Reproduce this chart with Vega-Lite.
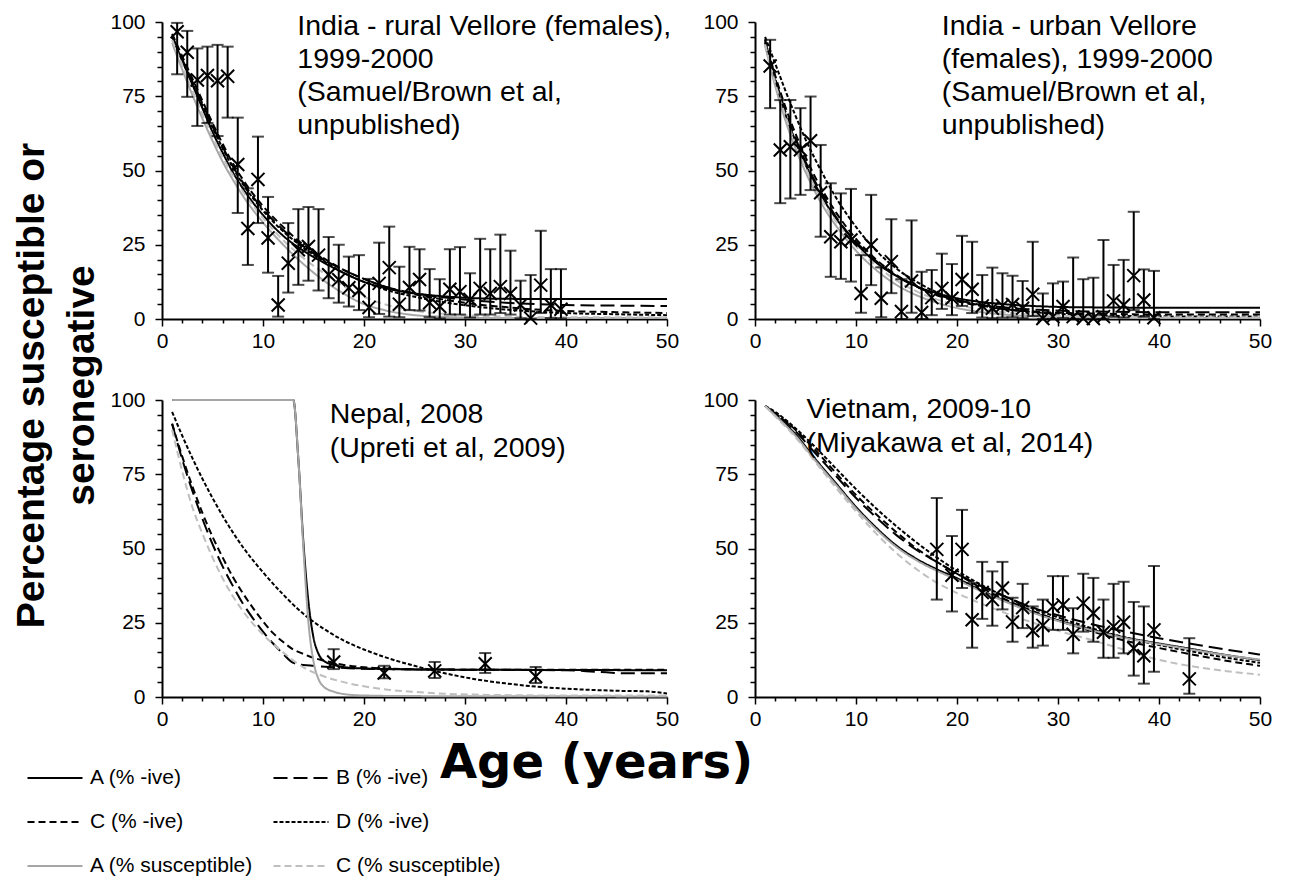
{
  "$schema": "https://vega.github.io/schema/vega-lite/v6.json",
  "background": "white",
  "padding": {"left": 12, "top": 11, "right": 5, "bottom": 5},
  "title": {"text": ["Percentage susceptible or", "seronegative"], "orient": "left", "anchor": "middle", "font": "Liberation Sans", "fontSize": 39, "fontWeight": "bold", "lineHeight": 50, "color": "black", "offset": -70, "dx": 58},
  "columns": 2,
  "spacing": {"row": 81, "column": 88},
  "bounds": "flush",
  "datasets": {
    "curves": [
      {"p":1,"s":"A (% -ive)","a":1,"v":95},{"p":1,"s":"A (% -ive)","a":2,"v":87},{"p":1,"s":"A (% -ive)","a":3,"v":79},{"p":1,"s":"A (% -ive)","a":4,"v":71},{"p":1,"s":"A (% -ive)","a":5,"v":63},{"p":1,"s":"A (% -ive)","a":6,"v":56},{"p":1,"s":"A (% -ive)","a":7,"v":49.5},{"p":1,"s":"A (% -ive)","a":8,"v":44},{"p":1,"s":"A (% -ive)","a":10,"v":35},{"p":1,"s":"A (% -ive)","a":12,"v":28},{"p":1,"s":"A (% -ive)","a":14,"v":23},{"p":1,"s":"A (% -ive)","a":16,"v":19},{"p":1,"s":"A (% -ive)","a":18,"v":15.5},{"p":1,"s":"A (% -ive)","a":20,"v":12.5},{"p":1,"s":"A (% -ive)","a":22,"v":10.5},{"p":1,"s":"A (% -ive)","a":25,"v":8.6},{"p":1,"s":"A (% -ive)","a":28,"v":7.6},{"p":1,"s":"A (% -ive)","a":31,"v":7},{"p":1,"s":"A (% -ive)","a":34,"v":6.8},{"p":1,"s":"A (% -ive)","a":37,"v":6.75},{"p":1,"s":"A (% -ive)","a":40,"v":6.75},{"p":1,"s":"A (% -ive)","a":45,"v":6.75},{"p":1,"s":"A (% -ive)","a":50,"v":6.75},
      {"p":1,"s":"B (% -ive)","a":1,"v":95.5},{"p":1,"s":"B (% -ive)","a":2,"v":87.5},{"p":1,"s":"B (% -ive)","a":3,"v":80},{"p":1,"s":"B (% -ive)","a":4,"v":72.5},{"p":1,"s":"B (% -ive)","a":5,"v":65},{"p":1,"s":"B (% -ive)","a":6,"v":58},{"p":1,"s":"B (% -ive)","a":7,"v":51.5},{"p":1,"s":"B (% -ive)","a":8,"v":46},{"p":1,"s":"B (% -ive)","a":10,"v":37},{"p":1,"s":"B (% -ive)","a":12,"v":30},{"p":1,"s":"B (% -ive)","a":14,"v":24.5},{"p":1,"s":"B (% -ive)","a":16,"v":20},{"p":1,"s":"B (% -ive)","a":18,"v":16.5},{"p":1,"s":"B (% -ive)","a":20,"v":13.5},{"p":1,"s":"B (% -ive)","a":22,"v":11},{"p":1,"s":"B (% -ive)","a":25,"v":8.7},{"p":1,"s":"B (% -ive)","a":28,"v":7.2},{"p":1,"s":"B (% -ive)","a":31,"v":6.2},{"p":1,"s":"B (% -ive)","a":34,"v":5.5},{"p":1,"s":"B (% -ive)","a":37,"v":5},{"p":1,"s":"B (% -ive)","a":40,"v":4.7},{"p":1,"s":"B (% -ive)","a":45,"v":4.5},{"p":1,"s":"B (% -ive)","a":50,"v":4.4},
      {"p":1,"s":"C (% -ive)","a":1,"v":96},{"p":1,"s":"C (% -ive)","a":2,"v":88.5},{"p":1,"s":"C (% -ive)","a":3,"v":81},{"p":1,"s":"C (% -ive)","a":4,"v":73.5},{"p":1,"s":"C (% -ive)","a":5,"v":66},{"p":1,"s":"C (% -ive)","a":6,"v":59},{"p":1,"s":"C (% -ive)","a":7,"v":52.5},{"p":1,"s":"C (% -ive)","a":8,"v":47},{"p":1,"s":"C (% -ive)","a":10,"v":38},{"p":1,"s":"C (% -ive)","a":12,"v":31},{"p":1,"s":"C (% -ive)","a":14,"v":25},{"p":1,"s":"C (% -ive)","a":16,"v":20.5},{"p":1,"s":"C (% -ive)","a":18,"v":16.5},{"p":1,"s":"C (% -ive)","a":20,"v":13.5},{"p":1,"s":"C (% -ive)","a":22,"v":11},{"p":1,"s":"C (% -ive)","a":25,"v":8.3},{"p":1,"s":"C (% -ive)","a":28,"v":6.5},{"p":1,"s":"C (% -ive)","a":31,"v":5},{"p":1,"s":"C (% -ive)","a":34,"v":4},{"p":1,"s":"C (% -ive)","a":37,"v":3.2},{"p":1,"s":"C (% -ive)","a":40,"v":2.7},{"p":1,"s":"C (% -ive)","a":45,"v":2.3},{"p":1,"s":"C (% -ive)","a":50,"v":2},
      {"p":1,"s":"D (% -ive)","a":1,"v":95},{"p":1,"s":"D (% -ive)","a":2,"v":87},{"p":1,"s":"D (% -ive)","a":3,"v":79.5},{"p":1,"s":"D (% -ive)","a":4,"v":72},{"p":1,"s":"D (% -ive)","a":5,"v":64.5},{"p":1,"s":"D (% -ive)","a":6,"v":57.5},{"p":1,"s":"D (% -ive)","a":7,"v":51},{"p":1,"s":"D (% -ive)","a":8,"v":45.5},{"p":1,"s":"D (% -ive)","a":10,"v":36.5},{"p":1,"s":"D (% -ive)","a":12,"v":29.5},{"p":1,"s":"D (% -ive)","a":14,"v":24},{"p":1,"s":"D (% -ive)","a":16,"v":19.5},{"p":1,"s":"D (% -ive)","a":18,"v":15.5},{"p":1,"s":"D (% -ive)","a":20,"v":12.5},{"p":1,"s":"D (% -ive)","a":22,"v":10},{"p":1,"s":"D (% -ive)","a":25,"v":7.5},{"p":1,"s":"D (% -ive)","a":28,"v":5.6},{"p":1,"s":"D (% -ive)","a":31,"v":4.2},{"p":1,"s":"D (% -ive)","a":34,"v":3.2},{"p":1,"s":"D (% -ive)","a":37,"v":2.5},{"p":1,"s":"D (% -ive)","a":40,"v":2},{"p":1,"s":"D (% -ive)","a":45,"v":1.6},{"p":1,"s":"D (% -ive)","a":50,"v":1.3},
      {"p":1,"s":"A (% susceptible)","a":1,"v":93},{"p":1,"s":"A (% susceptible)","a":2,"v":84},{"p":1,"s":"A (% susceptible)","a":3,"v":75.5},{"p":1,"s":"A (% susceptible)","a":4,"v":67.5},{"p":1,"s":"A (% susceptible)","a":5,"v":60},{"p":1,"s":"A (% susceptible)","a":6,"v":53},{"p":1,"s":"A (% susceptible)","a":7,"v":47},{"p":1,"s":"A (% susceptible)","a":8,"v":41.5},{"p":1,"s":"A (% susceptible)","a":10,"v":32.5},{"p":1,"s":"A (% susceptible)","a":12,"v":25},{"p":1,"s":"A (% susceptible)","a":14,"v":18.5},{"p":1,"s":"A (% susceptible)","a":16,"v":13},{"p":1,"s":"A (% susceptible)","a":18,"v":8.5},{"p":1,"s":"A (% susceptible)","a":20,"v":5},{"p":1,"s":"A (% susceptible)","a":22,"v":3},{"p":1,"s":"A (% susceptible)","a":25,"v":1.3},{"p":1,"s":"A (% susceptible)","a":28,"v":0.7},{"p":1,"s":"A (% susceptible)","a":31,"v":0.4},{"p":1,"s":"A (% susceptible)","a":34,"v":0.3},{"p":1,"s":"A (% susceptible)","a":40,"v":0.3},{"p":1,"s":"A (% susceptible)","a":50,"v":0.3},
      {"p":1,"s":"C (% susceptible)","a":1,"v":94},{"p":1,"s":"C (% susceptible)","a":2,"v":85.5},{"p":1,"s":"C (% susceptible)","a":3,"v":77},{"p":1,"s":"C (% susceptible)","a":4,"v":69},{"p":1,"s":"C (% susceptible)","a":5,"v":61.5},{"p":1,"s":"C (% susceptible)","a":6,"v":54.5},{"p":1,"s":"C (% susceptible)","a":7,"v":48.5},{"p":1,"s":"C (% susceptible)","a":8,"v":43},{"p":1,"s":"C (% susceptible)","a":10,"v":34},{"p":1,"s":"C (% susceptible)","a":12,"v":26.5},{"p":1,"s":"C (% susceptible)","a":14,"v":20.5},{"p":1,"s":"C (% susceptible)","a":16,"v":15.5},{"p":1,"s":"C (% susceptible)","a":18,"v":11},{"p":1,"s":"C (% susceptible)","a":20,"v":7.5},{"p":1,"s":"C (% susceptible)","a":22,"v":5},{"p":1,"s":"C (% susceptible)","a":25,"v":2.8},{"p":1,"s":"C (% susceptible)","a":28,"v":1.7},{"p":1,"s":"C (% susceptible)","a":31,"v":1.1},{"p":1,"s":"C (% susceptible)","a":34,"v":0.8},{"p":1,"s":"C (% susceptible)","a":40,"v":0.6},{"p":1,"s":"C (% susceptible)","a":50,"v":0.6},

      {"p":2,"s":"A (% -ive)","a":1,"v":93},{"p":2,"s":"A (% -ive)","a":2,"v":80},{"p":2,"s":"A (% -ive)","a":3,"v":69},{"p":2,"s":"A (% -ive)","a":4,"v":60},{"p":2,"s":"A (% -ive)","a":5,"v":52},{"p":2,"s":"A (% -ive)","a":6,"v":45},{"p":2,"s":"A (% -ive)","a":7,"v":39},{"p":2,"s":"A (% -ive)","a":8,"v":34},{"p":2,"s":"A (% -ive)","a":10,"v":25.5},{"p":2,"s":"A (% -ive)","a":12,"v":19},{"p":2,"s":"A (% -ive)","a":14,"v":14.5},{"p":2,"s":"A (% -ive)","a":16,"v":11},{"p":2,"s":"A (% -ive)","a":18,"v":8.7},{"p":2,"s":"A (% -ive)","a":20,"v":7},{"p":2,"s":"A (% -ive)","a":22,"v":5.9},{"p":2,"s":"A (% -ive)","a":25,"v":4.9},{"p":2,"s":"A (% -ive)","a":28,"v":4.3},{"p":2,"s":"A (% -ive)","a":31,"v":4},{"p":2,"s":"A (% -ive)","a":34,"v":3.9},{"p":2,"s":"A (% -ive)","a":40,"v":3.8},{"p":2,"s":"A (% -ive)","a":50,"v":3.8},
      {"p":2,"s":"B (% -ive)","a":1,"v":93.5},{"p":2,"s":"B (% -ive)","a":2,"v":81},{"p":2,"s":"B (% -ive)","a":3,"v":70},{"p":2,"s":"B (% -ive)","a":4,"v":61},{"p":2,"s":"B (% -ive)","a":5,"v":53},{"p":2,"s":"B (% -ive)","a":6,"v":46},{"p":2,"s":"B (% -ive)","a":7,"v":40},{"p":2,"s":"B (% -ive)","a":8,"v":34.5},{"p":2,"s":"B (% -ive)","a":10,"v":26},{"p":2,"s":"B (% -ive)","a":12,"v":19.5},{"p":2,"s":"B (% -ive)","a":14,"v":14.5},{"p":2,"s":"B (% -ive)","a":16,"v":10.8},{"p":2,"s":"B (% -ive)","a":18,"v":8.2},{"p":2,"s":"B (% -ive)","a":20,"v":6.4},{"p":2,"s":"B (% -ive)","a":22,"v":5},{"p":2,"s":"B (% -ive)","a":25,"v":3.8},{"p":2,"s":"B (% -ive)","a":28,"v":3.1},{"p":2,"s":"B (% -ive)","a":31,"v":2.7},{"p":2,"s":"B (% -ive)","a":34,"v":2.5},{"p":2,"s":"B (% -ive)","a":40,"v":2.3},{"p":2,"s":"B (% -ive)","a":50,"v":2.3},
      {"p":2,"s":"C (% -ive)","a":1,"v":94},{"p":2,"s":"C (% -ive)","a":2,"v":82},{"p":2,"s":"C (% -ive)","a":3,"v":71.5},{"p":2,"s":"C (% -ive)","a":4,"v":62.5},{"p":2,"s":"C (% -ive)","a":5,"v":54.5},{"p":2,"s":"C (% -ive)","a":6,"v":47.5},{"p":2,"s":"C (% -ive)","a":7,"v":41.5},{"p":2,"s":"C (% -ive)","a":8,"v":36},{"p":2,"s":"C (% -ive)","a":10,"v":27},{"p":2,"s":"C (% -ive)","a":12,"v":20},{"p":2,"s":"C (% -ive)","a":14,"v":14.8},{"p":2,"s":"C (% -ive)","a":16,"v":11},{"p":2,"s":"C (% -ive)","a":18,"v":8},{"p":2,"s":"C (% -ive)","a":20,"v":6},{"p":2,"s":"C (% -ive)","a":22,"v":4.6},{"p":2,"s":"C (% -ive)","a":25,"v":3.2},{"p":2,"s":"C (% -ive)","a":28,"v":2.4},{"p":2,"s":"C (% -ive)","a":31,"v":2},{"p":2,"s":"C (% -ive)","a":34,"v":1.8},{"p":2,"s":"C (% -ive)","a":40,"v":1.5},{"p":2,"s":"C (% -ive)","a":50,"v":1.5},
      {"p":2,"s":"D (% -ive)","a":1,"v":95},{"p":2,"s":"D (% -ive)","a":2,"v":86},{"p":2,"s":"D (% -ive)","a":3,"v":77},{"p":2,"s":"D (% -ive)","a":4,"v":68.5},{"p":2,"s":"D (% -ive)","a":5,"v":60.5},{"p":2,"s":"D (% -ive)","a":6,"v":53.5},{"p":2,"s":"D (% -ive)","a":7,"v":47},{"p":2,"s":"D (% -ive)","a":8,"v":41},{"p":2,"s":"D (% -ive)","a":10,"v":31},{"p":2,"s":"D (% -ive)","a":12,"v":23},{"p":2,"s":"D (% -ive)","a":14,"v":17},{"p":2,"s":"D (% -ive)","a":16,"v":12.5},{"p":2,"s":"D (% -ive)","a":18,"v":9},{"p":2,"s":"D (% -ive)","a":20,"v":6.5},{"p":2,"s":"D (% -ive)","a":22,"v":4.8},{"p":2,"s":"D (% -ive)","a":25,"v":3.2},{"p":2,"s":"D (% -ive)","a":28,"v":2.2},{"p":2,"s":"D (% -ive)","a":31,"v":1.6},{"p":2,"s":"D (% -ive)","a":34,"v":1.2},{"p":2,"s":"D (% -ive)","a":40,"v":0.9},{"p":2,"s":"D (% -ive)","a":50,"v":0.8},
      {"p":2,"s":"A (% susceptible)","a":1,"v":92},{"p":2,"s":"A (% susceptible)","a":2,"v":78.5},{"p":2,"s":"A (% susceptible)","a":3,"v":67},{"p":2,"s":"A (% susceptible)","a":4,"v":57.5},{"p":2,"s":"A (% susceptible)","a":5,"v":49.5},{"p":2,"s":"A (% susceptible)","a":6,"v":42.5},{"p":2,"s":"A (% susceptible)","a":7,"v":36.5},{"p":2,"s":"A (% susceptible)","a":8,"v":31.5},{"p":2,"s":"A (% susceptible)","a":10,"v":23},{"p":2,"s":"A (% susceptible)","a":12,"v":16.5},{"p":2,"s":"A (% susceptible)","a":14,"v":11.5},{"p":2,"s":"A (% susceptible)","a":16,"v":8},{"p":2,"s":"A (% susceptible)","a":18,"v":5.5},{"p":2,"s":"A (% susceptible)","a":20,"v":3.7},{"p":2,"s":"A (% susceptible)","a":22,"v":2.5},{"p":2,"s":"A (% susceptible)","a":25,"v":1.4},{"p":2,"s":"A (% susceptible)","a":28,"v":0.8},{"p":2,"s":"A (% susceptible)","a":31,"v":0.5},{"p":2,"s":"A (% susceptible)","a":34,"v":0.4},{"p":2,"s":"A (% susceptible)","a":40,"v":0.3},{"p":2,"s":"A (% susceptible)","a":50,"v":0.3},
      {"p":2,"s":"C (% susceptible)","a":1,"v":92.5},{"p":2,"s":"C (% susceptible)","a":2,"v":79.5},{"p":2,"s":"C (% susceptible)","a":3,"v":68.5},{"p":2,"s":"C (% susceptible)","a":4,"v":59},{"p":2,"s":"C (% susceptible)","a":5,"v":51},{"p":2,"s":"C (% susceptible)","a":6,"v":44},{"p":2,"s":"C (% susceptible)","a":7,"v":38},{"p":2,"s":"C (% susceptible)","a":8,"v":33},{"p":2,"s":"C (% susceptible)","a":10,"v":24.5},{"p":2,"s":"C (% susceptible)","a":12,"v":18},{"p":2,"s":"C (% susceptible)","a":14,"v":13},{"p":2,"s":"C (% susceptible)","a":16,"v":9.3},{"p":2,"s":"C (% susceptible)","a":18,"v":6.6},{"p":2,"s":"C (% susceptible)","a":20,"v":4.7},{"p":2,"s":"C (% susceptible)","a":22,"v":3.4},{"p":2,"s":"C (% susceptible)","a":25,"v":2.1},{"p":2,"s":"C (% susceptible)","a":28,"v":1.4},{"p":2,"s":"C (% susceptible)","a":31,"v":1},{"p":2,"s":"C (% susceptible)","a":34,"v":0.8},{"p":2,"s":"C (% susceptible)","a":40,"v":0.6},{"p":2,"s":"C (% susceptible)","a":50,"v":0.6},

      {"p":3,"s":"A (% -ive)","a":1,"v":100},{"p":3,"s":"A (% -ive)","a":5,"v":100},{"p":3,"s":"A (% -ive)","a":10,"v":100},{"p":3,"s":"A (% -ive)","a":13,"v":100},{"p":3,"s":"A (% -ive)","a":13.5,"v":80},{"p":3,"s":"A (% -ive)","a":14,"v":52},{"p":3,"s":"A (% -ive)","a":14.5,"v":32},{"p":3,"s":"A (% -ive)","a":15,"v":20},{"p":3,"s":"A (% -ive)","a":15.5,"v":14.5},{"p":3,"s":"A (% -ive)","a":16,"v":12.2},{"p":3,"s":"A (% -ive)","a":17,"v":10.8},{"p":3,"s":"A (% -ive)","a":18,"v":10.1},{"p":3,"s":"A (% -ive)","a":20,"v":9.6},{"p":3,"s":"A (% -ive)","a":25,"v":9.3},{"p":3,"s":"A (% -ive)","a":30,"v":9.2},{"p":3,"s":"A (% -ive)","a":40,"v":9.1},{"p":3,"s":"A (% -ive)","a":50,"v":9},
      {"p":3,"s":"B (% -ive)","a":1,"v":92},{"p":3,"s":"B (% -ive)","a":2,"v":80},{"p":3,"s":"B (% -ive)","a":3,"v":69.5},{"p":3,"s":"B (% -ive)","a":4,"v":60},{"p":3,"s":"B (% -ive)","a":5,"v":51.5},{"p":3,"s":"B (% -ive)","a":6,"v":44},{"p":3,"s":"B (% -ive)","a":7,"v":37.5},{"p":3,"s":"B (% -ive)","a":8,"v":31.5},{"p":3,"s":"B (% -ive)","a":9,"v":26.5},{"p":3,"s":"B (% -ive)","a":10,"v":22},{"p":3,"s":"B (% -ive)","a":11,"v":18},{"p":3,"s":"B (% -ive)","a":12,"v":14.5},{"p":3,"s":"B (% -ive)","a":13,"v":11.5},{"p":3,"s":"B (% -ive)","a":14,"v":10.8},{"p":3,"s":"B (% -ive)","a":15,"v":10.5},{"p":3,"s":"B (% -ive)","a":17,"v":10},{"p":3,"s":"B (% -ive)","a":20,"v":9.5},{"p":3,"s":"B (% -ive)","a":25,"v":9.3},{"p":3,"s":"B (% -ive)","a":30,"v":9.2},{"p":3,"s":"B (% -ive)","a":40,"v":9},{"p":3,"s":"B (% -ive)","a":43,"v":8.5},{"p":3,"s":"B (% -ive)","a":46,"v":8},{"p":3,"s":"B (% -ive)","a":50,"v":8},
      {"p":3,"s":"C (% -ive)","a":1,"v":92},{"p":3,"s":"C (% -ive)","a":2,"v":81},{"p":3,"s":"C (% -ive)","a":3,"v":71},{"p":3,"s":"C (% -ive)","a":4,"v":62},{"p":3,"s":"C (% -ive)","a":5,"v":54},{"p":3,"s":"C (% -ive)","a":6,"v":47},{"p":3,"s":"C (% -ive)","a":7,"v":40.5},{"p":3,"s":"C (% -ive)","a":8,"v":35},{"p":3,"s":"C (% -ive)","a":9,"v":30},{"p":3,"s":"C (% -ive)","a":10,"v":25.5},{"p":3,"s":"C (% -ive)","a":11,"v":21.5},{"p":3,"s":"C (% -ive)","a":12,"v":18.5},{"p":3,"s":"C (% -ive)","a":13,"v":16},{"p":3,"s":"C (% -ive)","a":14,"v":14.5},{"p":3,"s":"C (% -ive)","a":15,"v":13.2},{"p":3,"s":"C (% -ive)","a":16,"v":12.3},{"p":3,"s":"C (% -ive)","a":17,"v":11.5},{"p":3,"s":"C (% -ive)","a":18,"v":10.8},{"p":3,"s":"C (% -ive)","a":20,"v":10},{"p":3,"s":"C (% -ive)","a":22,"v":9.6},{"p":3,"s":"C (% -ive)","a":25,"v":9.3},{"p":3,"s":"C (% -ive)","a":30,"v":9.2},{"p":3,"s":"C (% -ive)","a":40,"v":9.2},{"p":3,"s":"C (% -ive)","a":50,"v":9.2},
      {"p":3,"s":"D (% -ive)","a":1,"v":96},{"p":3,"s":"D (% -ive)","a":2,"v":88},{"p":3,"s":"D (% -ive)","a":3,"v":80.5},{"p":3,"s":"D (% -ive)","a":4,"v":73.5},{"p":3,"s":"D (% -ive)","a":5,"v":67},{"p":3,"s":"D (% -ive)","a":6,"v":61},{"p":3,"s":"D (% -ive)","a":7,"v":55.5},{"p":3,"s":"D (% -ive)","a":8,"v":50.5},{"p":3,"s":"D (% -ive)","a":10,"v":42},{"p":3,"s":"D (% -ive)","a":12,"v":34.5},{"p":3,"s":"D (% -ive)","a":14,"v":28},{"p":3,"s":"D (% -ive)","a":16,"v":23},{"p":3,"s":"D (% -ive)","a":18,"v":19},{"p":3,"s":"D (% -ive)","a":20,"v":16},{"p":3,"s":"D (% -ive)","a":22,"v":13.5},{"p":3,"s":"D (% -ive)","a":25,"v":10.5},{"p":3,"s":"D (% -ive)","a":28,"v":8},{"p":3,"s":"D (% -ive)","a":31,"v":6},{"p":3,"s":"D (% -ive)","a":34,"v":4.6},{"p":3,"s":"D (% -ive)","a":37,"v":3.5},{"p":3,"s":"D (% -ive)","a":40,"v":2.8},{"p":3,"s":"D (% -ive)","a":45,"v":2.1},{"p":3,"s":"D (% -ive)","a":48,"v":1.9},{"p":3,"s":"D (% -ive)","a":50,"v":1.2},
      {"p":3,"s":"A (% susceptible)","a":1,"v":100},{"p":3,"s":"A (% susceptible)","a":5,"v":100},{"p":3,"s":"A (% susceptible)","a":10,"v":100},{"p":3,"s":"A (% susceptible)","a":13,"v":100},{"p":3,"s":"A (% susceptible)","a":13.5,"v":80},{"p":3,"s":"A (% susceptible)","a":14,"v":50},{"p":3,"s":"A (% susceptible)","a":14.5,"v":25},{"p":3,"s":"A (% susceptible)","a":15,"v":12},{"p":3,"s":"A (% susceptible)","a":15.5,"v":6},{"p":3,"s":"A (% susceptible)","a":16,"v":3.5},{"p":3,"s":"A (% susceptible)","a":17,"v":1.8},{"p":3,"s":"A (% susceptible)","a":18,"v":1},{"p":3,"s":"A (% susceptible)","a":20,"v":0.5},{"p":3,"s":"A (% susceptible)","a":25,"v":0.3},{"p":3,"s":"A (% susceptible)","a":50,"v":0.2},
      {"p":3,"s":"C (% susceptible)","a":1,"v":90},{"p":3,"s":"C (% susceptible)","a":2,"v":76},{"p":3,"s":"C (% susceptible)","a":3,"v":64},{"p":3,"s":"C (% susceptible)","a":4,"v":55},{"p":3,"s":"C (% susceptible)","a":5,"v":47},{"p":3,"s":"C (% susceptible)","a":6,"v":40},{"p":3,"s":"C (% susceptible)","a":7,"v":34},{"p":3,"s":"C (% susceptible)","a":8,"v":29},{"p":3,"s":"C (% susceptible)","a":10,"v":21},{"p":3,"s":"C (% susceptible)","a":12,"v":15},{"p":3,"s":"C (% susceptible)","a":14,"v":10},{"p":3,"s":"C (% susceptible)","a":16,"v":7},{"p":3,"s":"C (% susceptible)","a":18,"v":5},{"p":3,"s":"C (% susceptible)","a":20,"v":3.6},{"p":3,"s":"C (% susceptible)","a":22,"v":2.6},{"p":3,"s":"C (% susceptible)","a":25,"v":1.7},{"p":3,"s":"C (% susceptible)","a":28,"v":1.1},{"p":3,"s":"C (% susceptible)","a":31,"v":0.8},{"p":3,"s":"C (% susceptible)","a":35,"v":0.6},{"p":3,"s":"C (% susceptible)","a":40,"v":0.5},{"p":3,"s":"C (% susceptible)","a":50,"v":0.5},

      {"p":4,"s":"A (% -ive)","a":1,"v":98},{"p":4,"s":"A (% -ive)","a":2,"v":95},{"p":4,"s":"A (% -ive)","a":4,"v":88.5},{"p":4,"s":"A (% -ive)","a":6,"v":80},{"p":4,"s":"A (% -ive)","a":8,"v":72},{"p":4,"s":"A (% -ive)","a":10,"v":64},{"p":4,"s":"A (% -ive)","a":12,"v":57},{"p":4,"s":"A (% -ive)","a":14,"v":51},{"p":4,"s":"A (% -ive)","a":16,"v":46.5},{"p":4,"s":"A (% -ive)","a":18,"v":43},{"p":4,"s":"A (% -ive)","a":20,"v":40},{"p":4,"s":"A (% -ive)","a":22,"v":36.5},{"p":4,"s":"A (% -ive)","a":25,"v":32},{"p":4,"s":"A (% -ive)","a":28,"v":28},{"p":4,"s":"A (% -ive)","a":30,"v":25.8},{"p":4,"s":"A (% -ive)","a":33,"v":23},{"p":4,"s":"A (% -ive)","a":36,"v":20.5},{"p":4,"s":"A (% -ive)","a":40,"v":18},{"p":4,"s":"A (% -ive)","a":43,"v":16.3},{"p":4,"s":"A (% -ive)","a":46,"v":14.5},{"p":4,"s":"A (% -ive)","a":50,"v":12.4},
      {"p":4,"s":"B (% -ive)","a":1,"v":98},{"p":4,"s":"B (% -ive)","a":2,"v":95.5},{"p":4,"s":"B (% -ive)","a":4,"v":89.5},{"p":4,"s":"B (% -ive)","a":6,"v":82},{"p":4,"s":"B (% -ive)","a":8,"v":74.5},{"p":4,"s":"B (% -ive)","a":10,"v":67},{"p":4,"s":"B (% -ive)","a":12,"v":60.5},{"p":4,"s":"B (% -ive)","a":14,"v":54.5},{"p":4,"s":"B (% -ive)","a":16,"v":49.5},{"p":4,"s":"B (% -ive)","a":18,"v":45.5},{"p":4,"s":"B (% -ive)","a":20,"v":41.5},{"p":4,"s":"B (% -ive)","a":22,"v":38},{"p":4,"s":"B (% -ive)","a":25,"v":33.5},{"p":4,"s":"B (% -ive)","a":28,"v":29.5},{"p":4,"s":"B (% -ive)","a":30,"v":27.5},{"p":4,"s":"B (% -ive)","a":33,"v":24.8},{"p":4,"s":"B (% -ive)","a":36,"v":22.5},{"p":4,"s":"B (% -ive)","a":40,"v":19.8},{"p":4,"s":"B (% -ive)","a":43,"v":18},{"p":4,"s":"B (% -ive)","a":46,"v":16.3},{"p":4,"s":"B (% -ive)","a":50,"v":14.3},
      {"p":4,"s":"C (% -ive)","a":1,"v":98},{"p":4,"s":"C (% -ive)","a":2,"v":95.5},{"p":4,"s":"C (% -ive)","a":4,"v":90},{"p":4,"s":"C (% -ive)","a":6,"v":83},{"p":4,"s":"C (% -ive)","a":8,"v":75.5},{"p":4,"s":"C (% -ive)","a":10,"v":68},{"p":4,"s":"C (% -ive)","a":12,"v":61.5},{"p":4,"s":"C (% -ive)","a":14,"v":55.5},{"p":4,"s":"C (% -ive)","a":16,"v":50},{"p":4,"s":"C (% -ive)","a":18,"v":45.5},{"p":4,"s":"C (% -ive)","a":20,"v":41.5},{"p":4,"s":"C (% -ive)","a":22,"v":37.5},{"p":4,"s":"C (% -ive)","a":25,"v":32.5},{"p":4,"s":"C (% -ive)","a":28,"v":28.3},{"p":4,"s":"C (% -ive)","a":30,"v":25.8},{"p":4,"s":"C (% -ive)","a":33,"v":22.5},{"p":4,"s":"C (% -ive)","a":36,"v":19.5},{"p":4,"s":"C (% -ive)","a":40,"v":16.5},{"p":4,"s":"C (% -ive)","a":43,"v":14.5},{"p":4,"s":"C (% -ive)","a":46,"v":12.6},{"p":4,"s":"C (% -ive)","a":50,"v":10.5},
      {"p":4,"s":"D (% -ive)","a":1,"v":98},{"p":4,"s":"D (% -ive)","a":2,"v":96},{"p":4,"s":"D (% -ive)","a":4,"v":90.5},{"p":4,"s":"D (% -ive)","a":6,"v":84},{"p":4,"s":"D (% -ive)","a":8,"v":77},{"p":4,"s":"D (% -ive)","a":10,"v":70},{"p":4,"s":"D (% -ive)","a":12,"v":63.5},{"p":4,"s":"D (% -ive)","a":14,"v":57.5},{"p":4,"s":"D (% -ive)","a":16,"v":52},{"p":4,"s":"D (% -ive)","a":18,"v":47},{"p":4,"s":"D (% -ive)","a":20,"v":42.5},{"p":4,"s":"D (% -ive)","a":22,"v":38.5},{"p":4,"s":"D (% -ive)","a":25,"v":33.5},{"p":4,"s":"D (% -ive)","a":28,"v":29.2},{"p":4,"s":"D (% -ive)","a":30,"v":26.8},{"p":4,"s":"D (% -ive)","a":33,"v":23.5},{"p":4,"s":"D (% -ive)","a":36,"v":20.6},{"p":4,"s":"D (% -ive)","a":40,"v":17.5},{"p":4,"s":"D (% -ive)","a":43,"v":15.5},{"p":4,"s":"D (% -ive)","a":46,"v":13.6},{"p":4,"s":"D (% -ive)","a":50,"v":11.5},
      {"p":4,"s":"A (% susceptible)","a":1,"v":98},{"p":4,"s":"A (% susceptible)","a":2,"v":94.8},{"p":4,"s":"A (% susceptible)","a":4,"v":88},{"p":4,"s":"A (% susceptible)","a":6,"v":79.5},{"p":4,"s":"A (% susceptible)","a":8,"v":71.5},{"p":4,"s":"A (% susceptible)","a":10,"v":63.5},{"p":4,"s":"A (% susceptible)","a":12,"v":56.5},{"p":4,"s":"A (% susceptible)","a":14,"v":50.5},{"p":4,"s":"A (% susceptible)","a":16,"v":46},{"p":4,"s":"A (% susceptible)","a":18,"v":42.5},{"p":4,"s":"A (% susceptible)","a":20,"v":39.5},{"p":4,"s":"A (% susceptible)","a":22,"v":36.2},{"p":4,"s":"A (% susceptible)","a":25,"v":31.8},{"p":4,"s":"A (% susceptible)","a":28,"v":27.8},{"p":4,"s":"A (% susceptible)","a":30,"v":25.6},{"p":4,"s":"A (% susceptible)","a":33,"v":22.8},{"p":4,"s":"A (% susceptible)","a":36,"v":20.3},{"p":4,"s":"A (% susceptible)","a":40,"v":17.8},{"p":4,"s":"A (% susceptible)","a":43,"v":16.1},{"p":4,"s":"A (% susceptible)","a":46,"v":14.4},{"p":4,"s":"A (% susceptible)","a":50,"v":12.6},
      {"p":4,"s":"C (% susceptible)","a":1,"v":98},{"p":4,"s":"C (% susceptible)","a":2,"v":94.5},{"p":4,"s":"C (% susceptible)","a":4,"v":87.5},{"p":4,"s":"C (% susceptible)","a":6,"v":79},{"p":4,"s":"C (% susceptible)","a":8,"v":70.5},{"p":4,"s":"C (% susceptible)","a":10,"v":62.5},{"p":4,"s":"C (% susceptible)","a":12,"v":55},{"p":4,"s":"C (% susceptible)","a":14,"v":48.5},{"p":4,"s":"C (% susceptible)","a":16,"v":43},{"p":4,"s":"C (% susceptible)","a":18,"v":38.5},{"p":4,"s":"C (% susceptible)","a":20,"v":35},{"p":4,"s":"C (% susceptible)","a":22,"v":32},{"p":4,"s":"C (% susceptible)","a":25,"v":28},{"p":4,"s":"C (% susceptible)","a":28,"v":24.5},{"p":4,"s":"C (% susceptible)","a":30,"v":22.3},{"p":4,"s":"C (% susceptible)","a":33,"v":19.5},{"p":4,"s":"C (% susceptible)","a":36,"v":16.5},{"p":4,"s":"C (% susceptible)","a":40,"v":12.5},{"p":4,"s":"C (% susceptible)","a":43,"v":10.5},{"p":4,"s":"C (% susceptible)","a":46,"v":9},{"p":4,"s":"C (% susceptible)","a":50,"v":7.5}
    ],
    "obs": [
      {"p":1,"a":1.5,"v":96.7,"lo":82.4,"hi":99.7},{"p":1,"a":2.5,"v":89.8,"lo":74.8,"hi":97},{"p":1,"a":3.5,"v":80.5,"lo":65,"hi":91.1},{"p":1,"a":4.5,"v":82,"lo":66,"hi":91.7},{"p":1,"a":5.5,"v":80.2,"lo":61.6,"hi":92.3},{"p":1,"a":6.5,"v":81.7,"lo":67.8,"hi":91.7},{"p":1,"a":7.5,"v":52,"lo":35.7,"hi":67.8},{"p":1,"a":8.5,"v":30.5,"lo":18.2,"hi":44},{"p":1,"a":9.5,"v":47,"lo":32.3,"hi":61.4},{"p":1,"a":10.5,"v":27.3,"lo":15.6,"hi":41.1},{"p":1,"a":11.5,"v":4.7,"lo":0.8,"hi":14.5},{"p":1,"a":12.5,"v":18.8,"lo":8.9,"hi":32.3},{"p":1,"a":13.5,"v":23.3,"lo":11.5,"hi":37},{"p":1,"a":14.5,"v":24.4,"lo":12.9,"hi":37.7},{"p":1,"a":15.5,"v":21.5,"lo":9.6,"hi":37},{"p":1,"a":16.5,"v":14.9,"lo":7,"hi":27.6},{"p":1,"a":17.5,"v":13.2,"lo":5.5,"hi":25},{"p":1,"a":18.5,"v":10.5,"lo":4.2,"hi":21},{"p":1,"a":19.5,"v":9.6,"lo":3,"hi":21.5},{"p":1,"a":20.5,"v":3.9,"lo":0.6,"hi":13.5},{"p":1,"a":21.5,"v":12,"lo":1.7,"hi":25.7},{"p":1,"a":22.5,"v":17.3,"lo":0.8,"hi":31.1},{"p":1,"a":23.5,"v":5,"lo":0.6,"hi":17.6},{"p":1,"a":24.5,"v":10.6,"lo":3,"hi":24.3},{"p":1,"a":25.5,"v":13.3,"lo":2.9,"hi":23.5},{"p":1,"a":26.5,"v":5.5,"lo":0.6,"hi":16.8},{"p":1,"a":27.5,"v":4.2,"lo":0.2,"hi":13.4},{"p":1,"a":28.5,"v":10,"lo":1.5,"hi":23.5},{"p":1,"a":29.5,"v":9.2,"lo":1.5,"hi":24.2},{"p":1,"a":30.5,"v":6.6,"lo":0.5,"hi":15.4},{"p":1,"a":31.5,"v":10.3,"lo":1.5,"hi":27},{"p":1,"a":32.5,"v":8.6,"lo":1.5,"hi":23.5},{"p":1,"a":33.5,"v":10.9,"lo":2,"hi":28.4},{"p":1,"a":34.5,"v":8.6,"lo":1.5,"hi":23},{"p":1,"a":35.5,"v":4.7,"lo":0.2,"hi":12.9},{"p":1,"a":36.5,"v":0.3,"lo":0,"hi":14.8},{"p":1,"a":37.5,"v":11.4,"lo":2,"hi":29.7},{"p":1,"a":38.5,"v":4.7,"lo":0.3,"hi":16.8},{"p":1,"a":39.5,"v":3.3,"lo":0.2,"hi":16.8},
      {"p":2,"a":1.5,"v":85.2,"lo":71,"hi":94},{"p":2,"a":2.5,"v":56.9,"lo":39,"hi":73.7},{"p":2,"a":3.5,"v":58,"lo":40.6,"hi":73.7},{"p":2,"a":4.5,"v":57,"lo":41.8,"hi":71},{"p":2,"a":5.5,"v":60,"lo":43.4,"hi":74.9},{"p":2,"a":6.5,"v":42.5,"lo":27.7,"hi":58.6},{"p":2,"a":7.5,"v":27.7,"lo":14.2,"hi":45.7},{"p":2,"a":8.5,"v":26,"lo":13.5,"hi":42.3},{"p":2,"a":9.5,"v":26.6,"lo":12.6,"hi":43.8},{"p":2,"a":10.5,"v":8.6,"lo":2.1,"hi":21.5},{"p":2,"a":11.5,"v":24.9,"lo":11.4,"hi":41.8},{"p":2,"a":12.5,"v":7,"lo":0.6,"hi":17.4},{"p":2,"a":13.5,"v":19.3,"lo":8.7,"hi":33.6},{"p":2,"a":14.5,"v":2.5,"lo":0,"hi":13.4},{"p":2,"a":15.5,"v":12.8,"lo":2.1,"hi":33.2},{"p":2,"a":16.5,"v":2.2,"lo":0,"hi":15.9},{"p":2,"a":17.5,"v":7.2,"lo":1.3,"hi":16.5},{"p":2,"a":18.5,"v":10.3,"lo":3.4,"hi":22},{"p":2,"a":19.5,"v":7,"lo":1.3,"hi":18.5},{"p":2,"a":20.5,"v":13.3,"lo":4.4,"hi":28},{"p":2,"a":21.5,"v":10,"lo":2,"hi":26},{"p":2,"a":22.5,"v":4.4,"lo":0.5,"hi":14.8},{"p":2,"a":23.5,"v":3.6,"lo":0.3,"hi":17.3},{"p":2,"a":24.5,"v":4.5,"lo":0.5,"hi":15.4},{"p":2,"a":25.5,"v":4.9,"lo":0.6,"hi":14.6},{"p":2,"a":26.5,"v":3.6,"lo":0.3,"hi":12.8},{"p":2,"a":27.5,"v":8.3,"lo":1,"hi":26},{"p":2,"a":28.5,"v":0.2,"lo":0,"hi":8.6},{"p":2,"a":29.5,"v":0.8,"lo":0,"hi":12},{"p":2,"a":30.5,"v":4.2,"lo":0.3,"hi":12.6},{"p":2,"a":31.5,"v":0.8,"lo":0,"hi":20.7},{"p":2,"a":32.5,"v":0.2,"lo":0,"hi":13.4},{"p":2,"a":33.5,"v":0.2,"lo":0,"hi":13.9},{"p":2,"a":34.5,"v":0.8,"lo":0,"hi":26.6},{"p":2,"a":35.5,"v":6.1,"lo":0.8,"hi":18.2},{"p":2,"a":36.5,"v":4.7,"lo":0.5,"hi":19.9},{"p":2,"a":37.5,"v":14.6,"lo":3,"hi":36.1},{"p":2,"a":38.5,"v":6.4,"lo":0.8,"hi":16.7},{"p":2,"a":39.5,"v":0.4,"lo":0,"hi":16.2},
      {"p":3,"a":17,"v":11.8,"lo":9.4,"hi":16.1},{"p":3,"a":22,"v":8.1,"lo":6.3,"hi":10.5},{"p":3,"a":27,"v":8.8,"lo":6.4,"hi":11.8},{"p":3,"a":32,"v":11.2,"lo":8.1,"hi":14.8},{"p":3,"a":37,"v":6.9,"lo":4.7,"hi":10.1},
      {"p":4,"a":18,"v":49.7,"lo":32.8,"hi":67},{"p":4,"a":19.5,"v":41,"lo":28.8,"hi":54.2},{"p":4,"a":20.5,"v":49.7,"lo":36.7,"hi":63},{"p":4,"a":21.5,"v":26,"lo":16.6,"hi":38.4},{"p":4,"a":22.5,"v":35.2,"lo":26.3,"hi":45.5},{"p":4,"a":23.5,"v":32.8,"lo":24,"hi":42.3},{"p":4,"a":24.5,"v":36.7,"lo":29.5,"hi":45.5},{"p":4,"a":25.5,"v":25.3,"lo":18.6,"hi":33.4},{"p":4,"a":26.5,"v":30.1,"lo":23.2,"hi":38.1},{"p":4,"a":27.5,"v":22.3,"lo":16.6,"hi":30.5},{"p":4,"a":28.5,"v":24.1,"lo":17.3,"hi":32.8},{"p":4,"a":29.5,"v":30.5,"lo":22.6,"hi":40.7},{"p":4,"a":30.5,"v":31,"lo":22.6,"hi":40.7},{"p":4,"a":31.5,"v":21.1,"lo":14.7,"hi":29.9},{"p":4,"a":32.5,"v":31.6,"lo":22,"hi":41.5},{"p":4,"a":33.5,"v":28.2,"lo":18.6,"hi":40.1},{"p":4,"a":34.5,"v":21.8,"lo":13.2,"hi":32.8},{"p":4,"a":35.5,"v":23.7,"lo":13.2,"hi":38.1},{"p":4,"a":36.5,"v":25.2,"lo":14.7,"hi":38.8},{"p":4,"a":37.5,"v":16.4,"lo":7.2,"hi":32},{"p":4,"a":38.5,"v":13.9,"lo":4.5,"hi":30.5},{"p":4,"a":39.5,"v":22.6,"lo":8.5,"hi":44.1},{"p":4,"a":43,"v":6.1,"lo":1.1,"hi":19.8}
    ],
    "notes": [
      {"p":1,"a":13.4,"v":103.4,"t":"India - rural Vellore (females),\n1999-2000\n(Samuel/Brown et al,\nunpublished)"},
      {"p":2,"a":18.5,"v":103.4,"t":"India - urban Vellore\n(females), 1999-2000\n(Samuel/Brown et al,\nunpublished)"},
      {"p":3,"a":16.6,"v":100.1,"t":"Nepal, 2008\n(Upreti et al, 2009)"},
      {"p":4,"a":5.1,"v":101.8,"t":"Vietnam, 2009-10\n(Miyakawa et al, 2014)"}
    ]
  },
  "concat": [
    {
      "width": 505, "height": 297,
      "encoding": {
        "x": {"field": "a", "type": "quantitative", "scale": {"domain": [0, 50], "nice": false, "zero": false},
              "axis": {"title": null, "values": [0,2,4,6,8,10,12,14,16,18,20,22,24,26,28,30,32,34,36,38,40,42,44,46,48,50], "labelExpr": "datum.value % 10 === 0 ? datum.label : ''", "tickSize": {"condition": {"test": "datum.value % 10 === 0", "value": 7}, "value": 4}, "labelFlush": false, "labelOverlap": false, "labelPadding": 4}},
        "y": {"field": "v", "type": "quantitative", "scale": {"domain": [0, 100], "nice": false},
              "axis": {"title": null, "values": [0,5,10,15,20,25,30,35,40,45,50,55,60,65,70,75,80,85,90,95,100], "labelExpr": "datum.value % 25 === 0 ? datum.label : ''", "tickSize": {"condition": {"test": "datum.value % 25 === 0", "value": 7}, "value": 5}, "labelOverlap": false, "labelPadding": 10}}
      },
      "layer": [
        {"data": {"name": "curves"}, "transform": [{"filter": "datum.p === 1"}],
         "mark": {"type": "line", "interpolate": "monotone", "strokeWidth": 2},
         "encoding": {
           "color": {"field": "s", "type": "nominal", "scale": {"domain": ["A (% -ive)","C (% -ive)","A (% susceptible)","B (% -ive)","D (% -ive)","C (% susceptible)"], "range": ["#000000","#000000","#a6a6a6","#000000","#000000","#bfbfbf"]}, "legend": {"title": null, "orient": "none", "legendX": -130, "legendY": 733, "columns": 2, "symbolType": "M-1.25,0H1.25", "symbolSize": 1936, "symbolStrokeWidth": 2, "labelLimit": 300}},
           "strokeDash": {"field": "s", "type": "nominal", "scale": {"domain": ["A (% -ive)","C (% -ive)","A (% susceptible)","B (% -ive)","D (% -ive)","C (% susceptible)"], "range": [[1,0],[7,4],[1,0],[14,6],[4,2],[7,4]]}, "legend": {"title": null, "orient": "none", "legendX": -130, "legendY": 733, "columns": 2, "symbolType": "M-1.25,0H1.25", "symbolSize": 1936, "symbolStrokeWidth": 2, "labelLimit": 300}}
         }},
        {"data": {"name": "obs"}, "transform": [{"filter": "datum.p === 1"}],
         "mark": {"type": "errorbar", "ticks": true, "size": 12, "thickness": 2, "color": "black"},
         "encoding": {"y": {"field": "lo", "type": "quantitative", "scale": {"domain": [0, 100], "nice": false}, "axis": {"title": null, "values": [0,5,10,15,20,25,30,35,40,45,50,55,60,65,70,75,80,85,90,95,100], "labelExpr": "datum.value % 25 === 0 ? datum.label : ''", "tickSize": {"condition": {"test": "datum.value % 25 === 0", "value": 7}, "value": 5}, "labelOverlap": false, "labelPadding": 10}}, "y2": {"field": "hi"}}},
        {"data": {"name": "obs"}, "transform": [{"filter": "datum.p === 1"}],
         "mark": {"type": "point", "shape": "M-1,-1L1,1M-1,1L1,-1", "size": 170, "strokeWidth": 2, "color": "black", "filled": false, "opacity": 1}},
        {"data": {"name": "notes"}, "transform": [{"filter": "datum.p === 1"}],
         "mark": {"type": "text", "align": "left", "baseline": "top", "fontSize": 28.5, "lineHeight": 33, "lineBreak": "\n", "font": "Liberation Sans", "color": "black"},
         "encoding": {"text": {"field": "t", "type": "nominal"}}}
      ]
    },
    {
      "width": 505, "height": 297,
      "encoding": {
        "x": {"field": "a", "type": "quantitative", "scale": {"domain": [0, 50], "nice": false, "zero": false},
              "axis": {"title": null, "values": [0,2,4,6,8,10,12,14,16,18,20,22,24,26,28,30,32,34,36,38,40,42,44,46,48,50], "labelExpr": "datum.value % 10 === 0 ? datum.label : ''", "tickSize": {"condition": {"test": "datum.value % 10 === 0", "value": 7}, "value": 4}, "labelFlush": false, "labelOverlap": false, "labelPadding": 4}},
        "y": {"field": "v", "type": "quantitative", "scale": {"domain": [0, 100], "nice": false},
              "axis": {"title": null, "values": [0,5,10,15,20,25,30,35,40,45,50,55,60,65,70,75,80,85,90,95,100], "labelExpr": "datum.value % 25 === 0 ? datum.label : ''", "tickSize": {"condition": {"test": "datum.value % 25 === 0", "value": 7}, "value": 5}, "labelOverlap": false, "labelPadding": 10}}
      },
      "layer": [
        {"data": {"name": "curves"}, "transform": [{"filter": "datum.p === 2"}],
         "mark": {"type": "line", "interpolate": "monotone", "strokeWidth": 2},
         "encoding": {
           "color": {"field": "s", "type": "nominal", "scale": {"domain": ["A (% -ive)","C (% -ive)","A (% susceptible)","B (% -ive)","D (% -ive)","C (% susceptible)"], "range": ["#000000","#000000","#a6a6a6","#000000","#000000","#bfbfbf"]}, "legend": {"title": null, "orient": "none", "legendX": -130, "legendY": 733, "columns": 2, "symbolType": "M-1.25,0H1.25", "symbolSize": 1936, "symbolStrokeWidth": 2, "labelLimit": 300}},
           "strokeDash": {"field": "s", "type": "nominal", "scale": {"domain": ["A (% -ive)","C (% -ive)","A (% susceptible)","B (% -ive)","D (% -ive)","C (% susceptible)"], "range": [[1,0],[7,4],[1,0],[14,6],[4,2],[7,4]]}, "legend": {"title": null, "orient": "none", "legendX": -130, "legendY": 733, "columns": 2, "symbolType": "M-1.25,0H1.25", "symbolSize": 1936, "symbolStrokeWidth": 2, "labelLimit": 300}}
         }},
        {"data": {"name": "obs"}, "transform": [{"filter": "datum.p === 2"}],
         "mark": {"type": "errorbar", "ticks": true, "size": 12, "thickness": 2, "color": "black"},
         "encoding": {"y": {"field": "lo", "type": "quantitative", "scale": {"domain": [0, 100], "nice": false}, "axis": {"title": null, "values": [0,5,10,15,20,25,30,35,40,45,50,55,60,65,70,75,80,85,90,95,100], "labelExpr": "datum.value % 25 === 0 ? datum.label : ''", "tickSize": {"condition": {"test": "datum.value % 25 === 0", "value": 7}, "value": 5}, "labelOverlap": false, "labelPadding": 10}}, "y2": {"field": "hi"}}},
        {"data": {"name": "obs"}, "transform": [{"filter": "datum.p === 2"}],
         "mark": {"type": "point", "shape": "M-1,-1L1,1M-1,1L1,-1", "size": 170, "strokeWidth": 2, "color": "black", "filled": false, "opacity": 1}},
        {"data": {"name": "notes"}, "transform": [{"filter": "datum.p === 2"}],
         "mark": {"type": "text", "align": "left", "baseline": "top", "fontSize": 28.5, "lineHeight": 33, "lineBreak": "\n", "font": "Liberation Sans", "color": "black"},
         "encoding": {"text": {"field": "t", "type": "nominal"}}}
      ]
    },
    {
      "width": 505, "height": 297,
      "encoding": {
        "x": {"field": "a", "type": "quantitative", "scale": {"domain": [0, 50], "nice": false, "zero": false},
              "axis": {"title": "Age (years)", "titleFont": "DejaVu Sans", "titleFontSize": 48, "titleFontWeight": "bold", "titleX": 434, "titleY": 66, "titleAlign": "center", "titleBaseline": "middle", "titleColor": "black", "values": [0,2,4,6,8,10,12,14,16,18,20,22,24,26,28,30,32,34,36,38,40,42,44,46,48,50], "labelExpr": "datum.value % 10 === 0 ? datum.label : ''", "tickSize": {"condition": {"test": "datum.value % 10 === 0", "value": 7}, "value": 4}, "labelFlush": false, "labelOverlap": false, "labelPadding": 4}},
        "y": {"field": "v", "type": "quantitative", "scale": {"domain": [0, 100], "nice": false},
              "axis": {"title": null, "values": [0,5,10,15,20,25,30,35,40,45,50,55,60,65,70,75,80,85,90,95,100], "labelExpr": "datum.value % 25 === 0 ? datum.label : ''", "tickSize": {"condition": {"test": "datum.value % 25 === 0", "value": 7}, "value": 5}, "labelOverlap": false, "labelPadding": 10}}
      },
      "layer": [
        {"data": {"name": "curves"}, "transform": [{"filter": "datum.p === 3"}],
         "mark": {"type": "line", "interpolate": "monotone", "strokeWidth": 2},
         "encoding": {
           "color": {"field": "s", "type": "nominal", "scale": {"domain": ["A (% -ive)","C (% -ive)","A (% susceptible)","B (% -ive)","D (% -ive)","C (% susceptible)"], "range": ["#000000","#000000","#a6a6a6","#000000","#000000","#bfbfbf"]}, "legend": {"title": null, "orient": "none", "legendX": -130, "legendY": 733, "columns": 2, "symbolType": "M-1.25,0H1.25", "symbolSize": 1936, "symbolStrokeWidth": 2, "labelLimit": 300}},
           "strokeDash": {"field": "s", "type": "nominal", "scale": {"domain": ["A (% -ive)","C (% -ive)","A (% susceptible)","B (% -ive)","D (% -ive)","C (% susceptible)"], "range": [[1,0],[7,4],[1,0],[14,6],[4,2],[7,4]]}, "legend": {"title": null, "orient": "none", "legendX": -130, "legendY": 733, "columns": 2, "symbolType": "M-1.25,0H1.25", "symbolSize": 1936, "symbolStrokeWidth": 2, "labelLimit": 300}}
         }},
        {"data": {"name": "obs"}, "transform": [{"filter": "datum.p === 3"}],
         "mark": {"type": "errorbar", "ticks": true, "size": 12, "thickness": 2, "color": "black"},
         "encoding": {"y": {"field": "lo", "type": "quantitative", "scale": {"domain": [0, 100], "nice": false}, "axis": {"title": null, "values": [0,5,10,15,20,25,30,35,40,45,50,55,60,65,70,75,80,85,90,95,100], "labelExpr": "datum.value % 25 === 0 ? datum.label : ''", "tickSize": {"condition": {"test": "datum.value % 25 === 0", "value": 7}, "value": 5}, "labelOverlap": false, "labelPadding": 10}}, "y2": {"field": "hi"}}},
        {"data": {"name": "obs"}, "transform": [{"filter": "datum.p === 3"}],
         "mark": {"type": "point", "shape": "M-1,-1L1,1M-1,1L1,-1", "size": 170, "strokeWidth": 2, "color": "black", "filled": false, "opacity": 1}},
        {"data": {"name": "notes"}, "transform": [{"filter": "datum.p === 3"}],
         "mark": {"type": "text", "align": "left", "baseline": "top", "fontSize": 28.5, "lineHeight": 34, "lineBreak": "\n", "font": "Liberation Sans", "color": "black"},
         "encoding": {"text": {"field": "t", "type": "nominal"}}}
      ]
    },
    {
      "width": 505, "height": 297,
      "encoding": {
        "x": {"field": "a", "type": "quantitative", "scale": {"domain": [0, 50], "nice": false, "zero": false},
              "axis": {"title": null, "values": [0,2,4,6,8,10,12,14,16,18,20,22,24,26,28,30,32,34,36,38,40,42,44,46,48,50], "labelExpr": "datum.value % 10 === 0 ? datum.label : ''", "tickSize": {"condition": {"test": "datum.value % 10 === 0", "value": 7}, "value": 4}, "labelFlush": false, "labelOverlap": false, "labelPadding": 4}},
        "y": {"field": "v", "type": "quantitative", "scale": {"domain": [0, 100], "nice": false},
              "axis": {"title": null, "values": [0,5,10,15,20,25,30,35,40,45,50,55,60,65,70,75,80,85,90,95,100], "labelExpr": "datum.value % 25 === 0 ? datum.label : ''", "tickSize": {"condition": {"test": "datum.value % 25 === 0", "value": 7}, "value": 5}, "labelOverlap": false, "labelPadding": 10}}
      },
      "layer": [
        {"data": {"name": "curves"}, "transform": [{"filter": "datum.p === 4"}],
         "mark": {"type": "line", "interpolate": "monotone", "strokeWidth": 2},
         "encoding": {
           "color": {"field": "s", "type": "nominal", "scale": {"domain": ["A (% -ive)","C (% -ive)","A (% susceptible)","B (% -ive)","D (% -ive)","C (% susceptible)"], "range": ["#000000","#000000","#a6a6a6","#000000","#000000","#bfbfbf"]}, "legend": {"title": null, "orient": "none", "legendX": -130, "legendY": 733, "columns": 2, "symbolType": "M-1.25,0H1.25", "symbolSize": 1936, "symbolStrokeWidth": 2, "labelLimit": 300}},
           "strokeDash": {"field": "s", "type": "nominal", "scale": {"domain": ["A (% -ive)","C (% -ive)","A (% susceptible)","B (% -ive)","D (% -ive)","C (% susceptible)"], "range": [[1,0],[7,4],[1,0],[14,6],[4,2],[7,4]]}, "legend": {"title": null, "orient": "none", "legendX": -130, "legendY": 733, "columns": 2, "symbolType": "M-1.25,0H1.25", "symbolSize": 1936, "symbolStrokeWidth": 2, "labelLimit": 300}}
         }},
        {"data": {"name": "obs"}, "transform": [{"filter": "datum.p === 4"}],
         "mark": {"type": "errorbar", "ticks": true, "size": 12, "thickness": 2, "color": "black"},
         "encoding": {"y": {"field": "lo", "type": "quantitative", "scale": {"domain": [0, 100], "nice": false}, "axis": {"title": null, "values": [0,5,10,15,20,25,30,35,40,45,50,55,60,65,70,75,80,85,90,95,100], "labelExpr": "datum.value % 25 === 0 ? datum.label : ''", "tickSize": {"condition": {"test": "datum.value % 25 === 0", "value": 7}, "value": 5}, "labelOverlap": false, "labelPadding": 10}}, "y2": {"field": "hi"}}},
        {"data": {"name": "obs"}, "transform": [{"filter": "datum.p === 4"}],
         "mark": {"type": "point", "shape": "M-1,-1L1,1M-1,1L1,-1", "size": 170, "strokeWidth": 2, "color": "black", "filled": false, "opacity": 1}},
        {"data": {"name": "notes"}, "transform": [{"filter": "datum.p === 4"}],
         "mark": {"type": "text", "align": "left", "baseline": "top", "fontSize": 28.5, "lineHeight": 34, "lineBreak": "\n", "font": "Liberation Sans", "color": "black"},
         "encoding": {"text": {"field": "t", "type": "nominal"}}}
      ]
    }
  ],
  "config": {
    "font": "Liberation Sans",
    "view": {"stroke": null},
    "axis": {"domainColor": "black", "domainWidth": 2, "tickColor": "black", "tickWidth": 1.5, "labelColor": "black", "labelFont": "Liberation Sans", "labelFontSize": 21, "grid": false, "titleColor": "black", "titleFont": "Liberation Sans"},
    "legend": {"labelFontSize": 21, "labelFont": "Liberation Sans", "labelColor": "black", "rowPadding": 11, "columnPadding": 15, "labelOffset": 12, "padding": 0}
  }
}
